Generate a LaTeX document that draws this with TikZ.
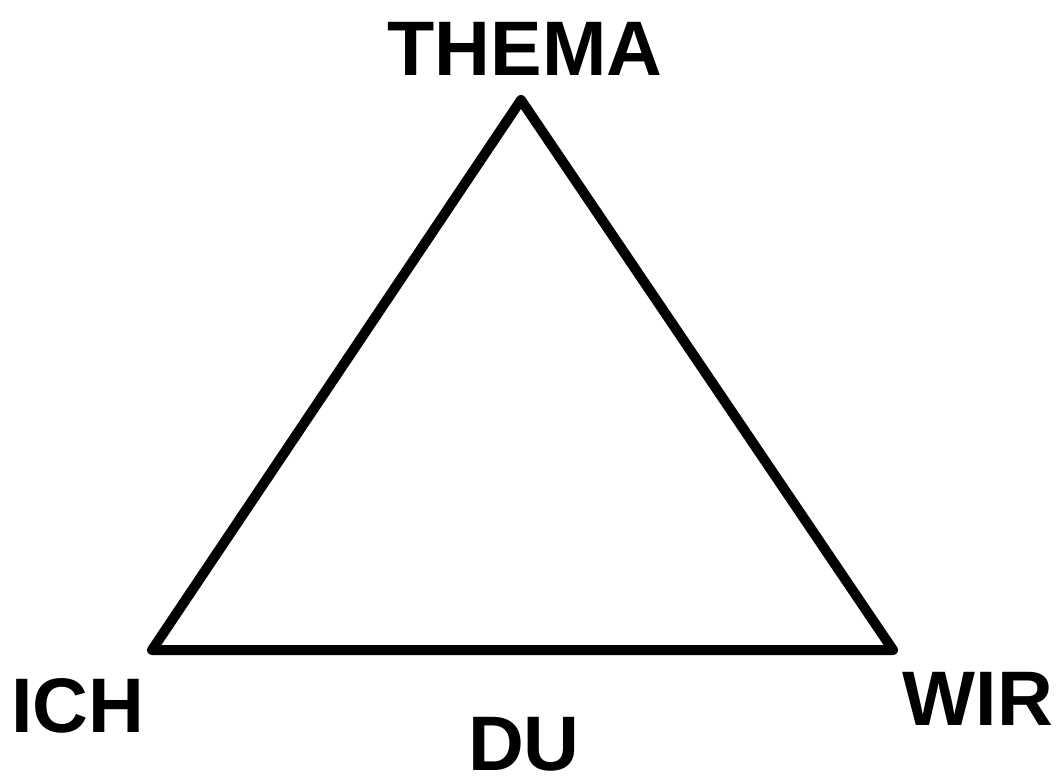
\documentclass[tikz,border=0pt]{standalone}
\usepackage{fontspec}
\setmainfont{Liberation Sans}
\begin{document}
\begin{tikzpicture}[x=0.75pt,y=-0.75pt,
  lbl/.style={font=\fontsize{58}{60}\selectfont\bfseries, inner sep=0pt, anchor=base},
  edge/.style={line width=7.5pt, line join=round}]
\useasboundingbox (0,0) rectangle (1063,779);
\coordinate (T) at (521,100);
\coordinate (L) at (152,650);
\coordinate (R) at (893,650);
\draw[edge] (T) -- (R) -- (L) -- cycle;
\node[lbl] (thema) at (525,75) {THEMA};
\node[lbl] (ich) at (78,732) {ICH};
\node[lbl] (wir) at (978,725) {WIR};
\node[lbl] (du) at (524,770) {DU};
\end{tikzpicture}
\end{document}
